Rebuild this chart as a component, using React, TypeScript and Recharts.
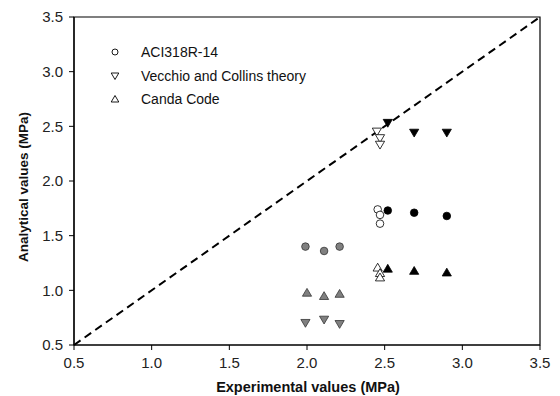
import {
  ReferenceArea,
  ReferenceLine,
  Scatter,
  ScatterChart,
  XAxis,
  YAxis,
} from "recharts";

const ticks = [0.5, 1.0, 1.5, 2.0, 2.5, 3.0, 3.5];
const tones = ["gray", "gray", "gray", "open", "open", "open", "black", "black", "black"];

const aciX = [1.99, 2.11, 2.21, 2.455, 2.47, 2.47, 2.52, 2.69, 2.9];
const aciY = [1.4, 1.36, 1.4, 1.74, 1.69, 1.61, 1.73, 1.71, 1.68];

const vecX = [1.99, 2.11, 2.21, 2.45, 2.47, 2.47, 2.52, 2.69, 2.9];
const vecY = [0.7, 0.73, 0.69, 2.45, 2.39, 2.33, 2.53, 2.44, 2.44];

const canX = [2.0, 2.11, 2.21, 2.455, 2.47, 2.47, 2.52, 2.69, 2.9];
const canY = [0.98, 0.95, 0.97, 1.21, 1.16, 1.12, 1.2, 1.18, 1.165];

const toRows = (xs: number[], ys: number[]) =>
  xs.map((x, i) => ({ x, y: ys[i], tone: tones[i] }));

const fillFor = (tone: string) =>
  tone === "black" ? "#000" : tone === "gray" ? "#808080" : "#fff";

const font = "'Liberation Sans', Arial, sans-serif";

function Marker({ cx, cy, payload, kind }: any) {
  const fill = fillFor(payload?.tone);
  const stroke = payload?.tone === "gray" ? "#333" : "#000";
  if (kind === "circle") {
    return <circle cx={cx} cy={cy} r={3.8} fill={fill} stroke={stroke} strokeWidth={0.8} />;
  }
  const s = 4.6;
  const pts =
    kind === "down"
      ? `${cx - s},${cy - s * 0.8} ${cx + s},${cy - s * 0.8} ${cx},${cy + s * 0.9}`
      : `${cx - s},${cy + s * 0.8} ${cx + s},${cy + s * 0.8} ${cx},${cy - s * 0.9}`;
  return <polygon points={pts} fill={fill} stroke={stroke} strokeWidth={0.8} />;
}

function LegendIcon({ kind }: { kind: string }) {
  return (
    <svg width={10} height={10} style={{ display: "block" }}>
      {kind === "circle" ? (
        <circle cx={5} cy={5} r={3} fill="#fff" stroke="#000" strokeWidth={0.9} />
      ) : kind === "down" ? (
        <polygon points="1.2,2 8.8,2 5,8.5" fill="#fff" stroke="#000" strokeWidth={0.9} />
      ) : (
        <polygon points="1.2,8 8.8,8 5,1.5" fill="#fff" stroke="#000" strokeWidth={0.9} />
      )}
    </svg>
  );
}

const legendItems = [
  { kind: "circle", label: "ACI318R-14", top: 44 },
  { kind: "down", label: "Vecchio and Collins theory", top: 68 },
  { kind: "up", label: "Canda Code", top: 91 },
];

const tickStyle = { fill: "#222", fontSize: 15, fontFamily: font };

export default function App() {
  return (
    <div style={{ position: "relative", width: 560, height: 396, background: "#fff" }}>
      <style>{"body{margin:0}"}</style>
      <ScatterChart
        width={560}
        height={396}
        margin={{ top: 17, right: 20, bottom: 0, left: 0 }}
      >
        <XAxis
          type="number"
          dataKey="x"
          domain={[0.5, 3.5]}
          ticks={ticks}
          tickFormatter={(v: number) => v.toFixed(1)}
          tick={tickStyle}
          tickSize={5}
          tickMargin={7}
          height={51}
          allowDataOverflow
          axisLine={{ stroke: "#000", strokeWidth: 1.2 }}
          tickLine={{ stroke: "#000" }}
          label={{
            content: () => (
              <text
                x={308}
                y={392}
                textAnchor="middle"
                fontFamily={font}
                fontSize={14.5}
                fontWeight="bold"
                fill="#111"
              >
                Experimental values (MPa)
              </text>
            ),
          }}
        />
        <YAxis
          type="number"
          dataKey="y"
          domain={[0.5, 3.5]}
          ticks={ticks}
          tickFormatter={(v: number) => v.toFixed(1)}
          tick={tickStyle}
          tickSize={5}
          tickMargin={6}
          width={74}
          allowDataOverflow
          axisLine={{ stroke: "#000", strokeWidth: 1.2 }}
          tickLine={{ stroke: "#000" }}
          label={{
            content: () => (
              <text
                x={28}
                y={187}
                transform="rotate(-90 28 187)"
                textAnchor="middle"
                fontFamily={font}
                fontSize={13.5}
                fontWeight="bold"
                fill="#111"
              >
                Analytical values (MPa)
              </text>
            ),
          }}
        />
        <ReferenceArea
          x1={0.5}
          x2={3.5}
          y1={0.5}
          y2={3.5}
          fill="none"
          stroke="#000"
          strokeWidth={1.2}
        />
        <ReferenceLine
          segment={[
            { x: 0.5, y: 0.5 },
            { x: 3.5, y: 3.5 },
          ]}
          stroke="#000"
          strokeWidth={2}
          strokeDasharray="8 5"
        />
        <Scatter
          data={toRows(aciX, aciY)}
          isAnimationActive={false}
          shape={(p: any) => <Marker {...p} kind="circle" />}
        />
        <Scatter
          data={toRows(vecX, vecY)}
          isAnimationActive={false}
          shape={(p: any) => <Marker {...p} kind="down" />}
        />
        <Scatter
          data={toRows(canX, canY)}
          isAnimationActive={false}
          shape={(p: any) => <Marker {...p} kind="up" />}
        />
      </ScatterChart>
      {legendItems.map((it) => (
        <div
          key={it.label}
          style={{
            position: "absolute",
            left: 110,
            top: it.top,
            display: "flex",
            alignItems: "center",
            fontFamily: font,
            fontSize: 14,
            color: "#111",
            height: 16,
          }}
        >
          <LegendIcon kind={it.kind} />
          <span style={{ marginLeft: 21 }}>{it.label}</span>
        </div>
      ))}
    </div>
  );
}
